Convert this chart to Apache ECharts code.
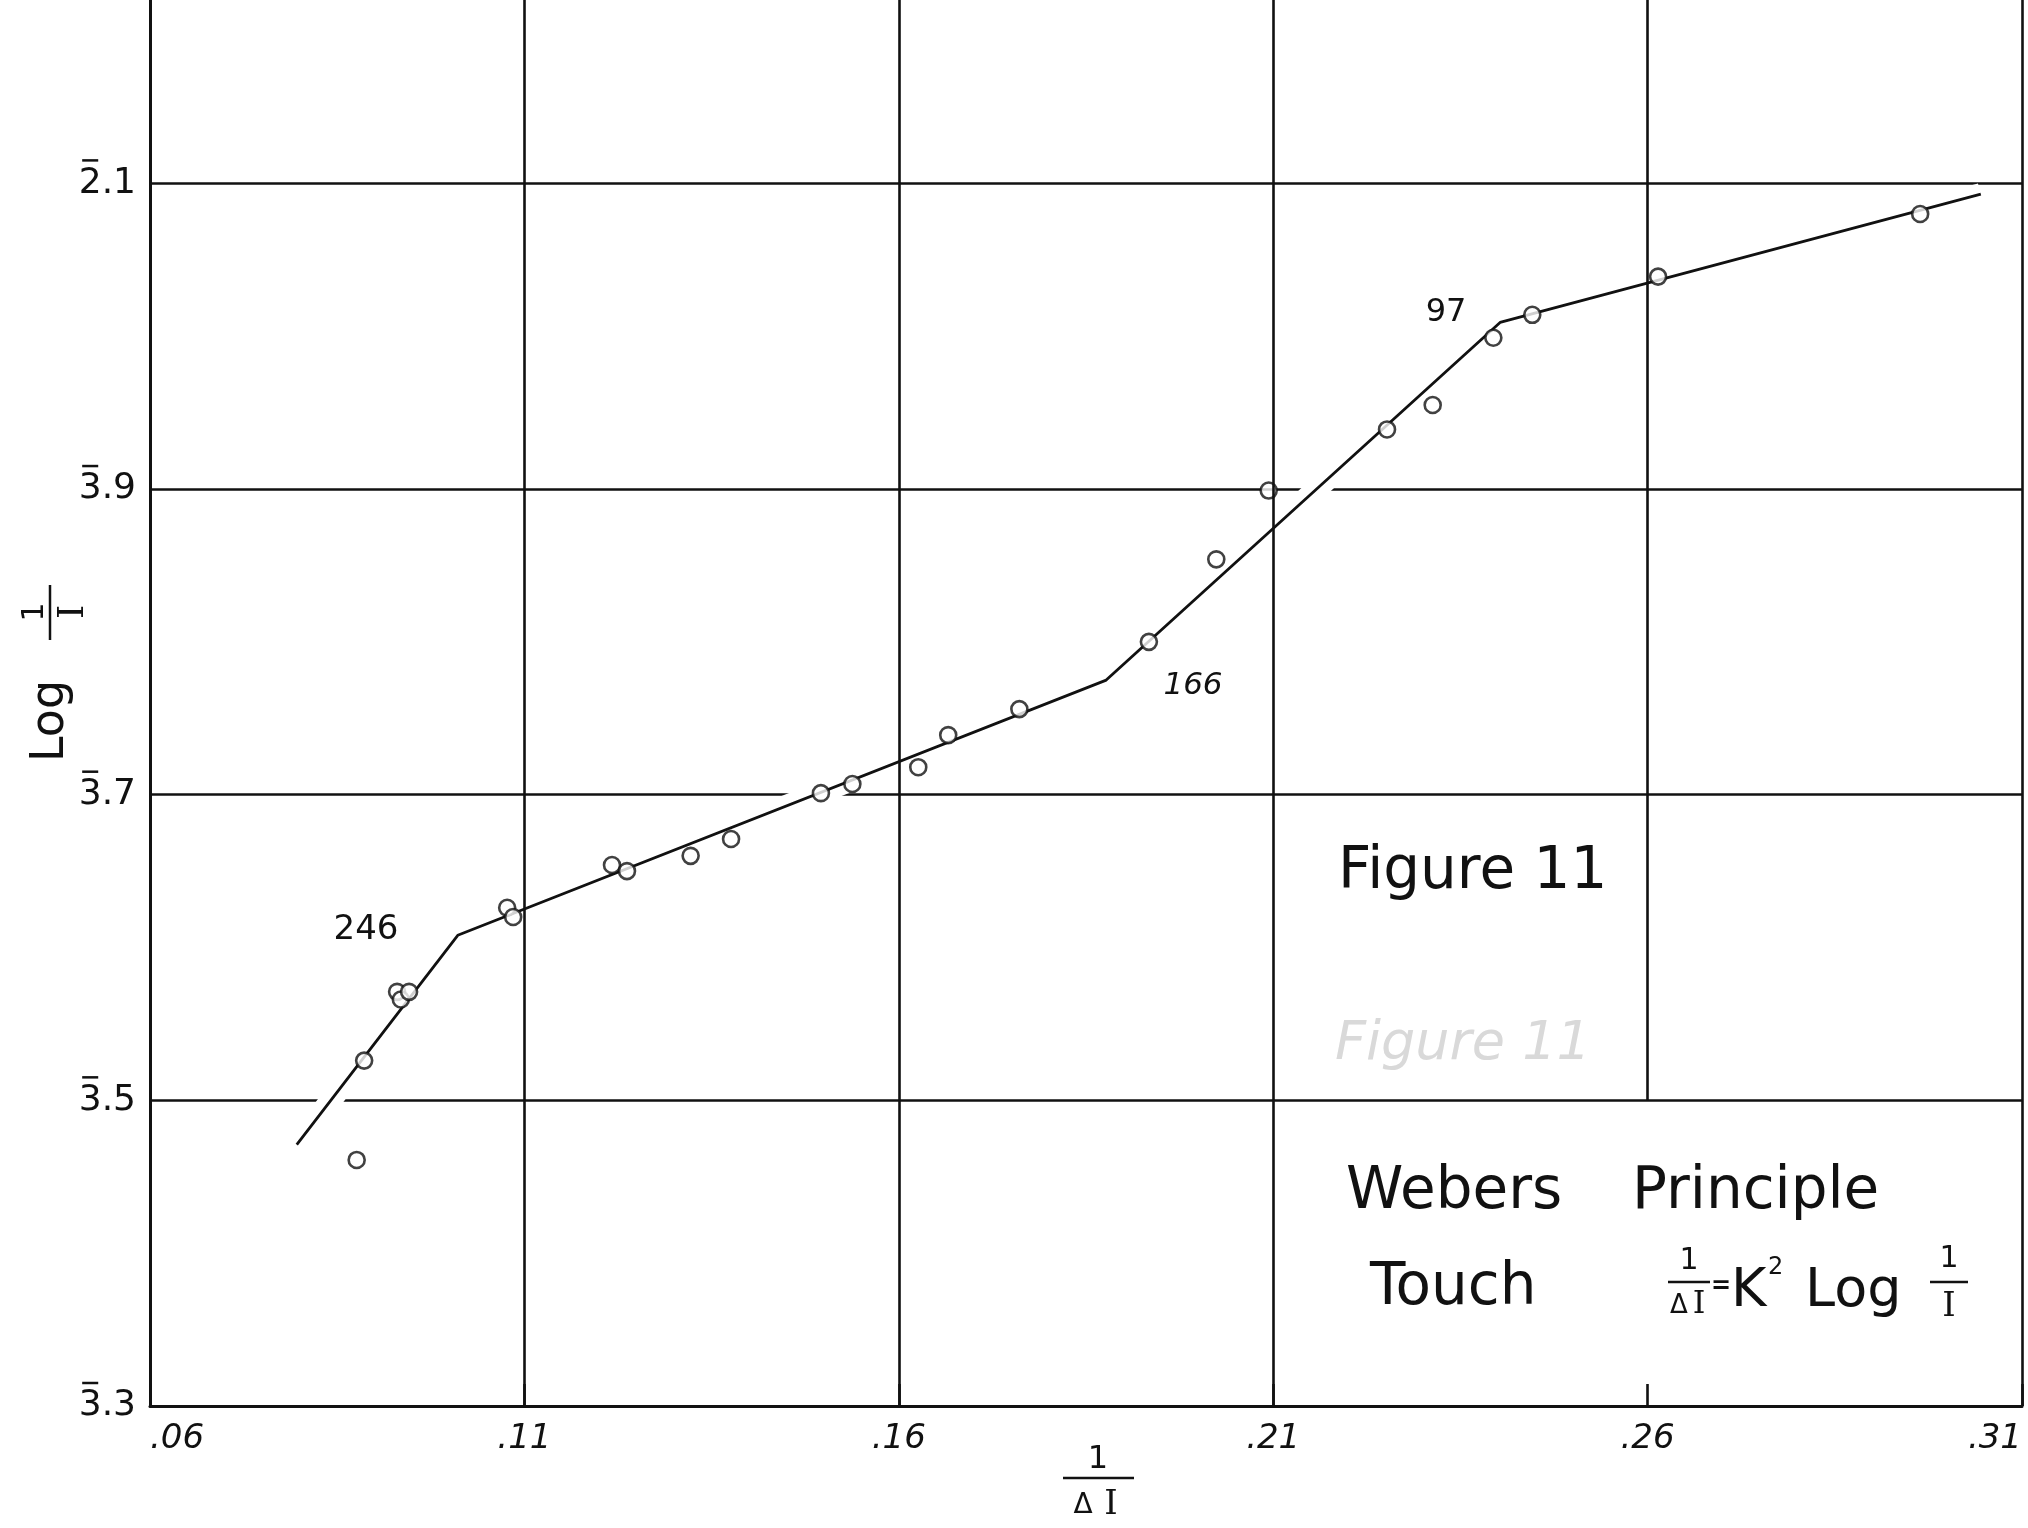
<!DOCTYPE html>
<html><head><meta charset="utf-8">
<script src="https://cdn.jsdelivr.net/npm/echarts@6/dist/echarts.min.js"></script>
<style>html,body{margin:0;padding:0;background:#fff}#c{width:2028px;height:1528px}</style>
</head><body><div id="c"></div>
<script>
// Observed points (1/ΔI , Log 1/I in bar notation: 3.5 means 3̄.5)
const xObs = [0.0876, 0.0886, 0.0930, 0.0935, 0.0946, 0.1077, 0.1085, 0.1217, 0.1237, 0.1322, 0.1376, 0.1496, 0.1538, 0.1626, 0.1666, 0.1761, 0.1934, 0.2024, 0.2094, 0.2252, 0.2313, 0.2394, 0.2446, 0.2614, 0.2964];
const yObs = [3.461, 3.526, 3.571, 3.566, 3.571, 3.626, 3.620, 3.654, 3.650, 3.660, 3.671, 3.701, 3.707, 3.718, 3.739, 3.756, 3.800, 3.854, 3.899, 3.939, 3.955, 3.999, 4.014, 4.039, 4.080];
// Fitted broken line
const xFit = [0.0796, 0.1011, 0.1877, 0.2403, 0.3045];
const yFit = [3.471, 3.608, 3.775, 4.009, 4.093];
// Tick labels
const xTickLabels = ['.06', '.11', '.16', '.21', '.26', '.31'];
const yTickValues = [3.3, 3.5, 3.7, 3.9, 4.1];
const yTickHeads = ['3', '3', '3', '3', '2'];   // characteristic, drawn with a bar over it
const yTickTails = ['.3', '.5', '.7', '.9', '.1'];
// Vertical rulings
const xGridFull = [0.11, 0.16, 0.21, 0.31];
const xGridPartial = [0.26];
const partialFrom = 3.5;
const yMax = 4.22;

const FONT = 'DejaVu Sans';
const SERIF = 'DejaVu Serif';
const INK = '#111';

const chart = echarts.init(document.getElementById('c'), null, {renderer: 'canvas'});

const obs = xObs.map((x, i) => [x, yObs[i]]);
const fit = xFit.map((x, i) => [x, yFit[i]]);

function txt(text, x, y, size, extra) {
  return {
    type: 'text', x: x, y: y, silent: true,
    style: Object.assign({text: text, fontSize: size, fontFamily: FONT, fill: INK, align: 'center', verticalAlign: 'middle'}, extra || {})
  };
}
function bar(x1, y1, x2, y2, w) {
  return {type: 'line', silent: true, shape: {x1: x1, y1: y1, x2: x2, y2: y2}, style: {stroke: INK, lineWidth: w || 2.5}};
}

const graphics = [
  // point annotations
  txt('246', 366, 930, 34),
  txt('166', 1193, 686, 31, {fontStyle: 'italic'}),
  txt('97', 1446, 313, 32),
  // titles
  txt('Figure 11', 1338, 873, 58, {align: 'left'}),
  txt('Figure 11', 1335, 1045, 54, {align: 'left', fontStyle: 'italic', fill: '#d9d9d9'}),
  txt('Webers', 1346, 1193, 58, {align: 'left'}),
  txt('Principle', 1632, 1193, 58, {align: 'left'}),
  txt('Touch', 1370, 1289, 58, {align: 'left'}),
  // formula 1/ΔI = K² Log 1/I
  txt('1', 1689, 1261, 30),
  bar(1668, 1282, 1710, 1282),
  txt('\u0394', 1679, 1306, 26),
  txt('I', 1699, 1305, 32, {fontFamily: SERIF}),
  txt('=', 1721, 1287, 24, {fontWeight: 'bold'}),
  txt('K', 1731, 1292, 54, {align: 'left'}),
  txt('2', 1768, 1268, 24, {align: 'left'}),
  txt('Log', 1805, 1292, 54, {align: 'left'}),
  txt('1', 1949, 1259, 30),
  bar(1930, 1282, 1968, 1282),
  txt('I', 1949, 1307, 34, {fontFamily: SERIF}),
  // x axis name 1/ΔI
  txt('1', 1098, 1460, 32),
  bar(1063, 1478, 1134, 1478),
  txt('\u0394', 1083, 1506, 28),
  txt('I', 1111, 1505, 34, {fontFamily: SERIF}),
  // y axis name Log 1/I (rotated)
  {
    type: 'group', x: 68, y: 762, rotation: Math.PI / 2, silent: true,
    children: [
      txt('Log', 0, -17, 46, {align: 'left'}),
      bar(122, -18, 177, -18),
      txt('1', 150, -33, 30),
      txt('I', 150, 6, 36, {fontFamily: SERIF})
    ]
  }
];

const option = {
  animation: false,
  backgroundColor: '#fff',
  grid: {left: 150, right: 6, top: 0, bottom: 122, containLabel: false},
  xAxis: {
    type: 'value', min: 0.06, max: 0.31, interval: 0.05,
    axisLine: {show: true, lineStyle: {color: INK, width: 3}},
    axisTick: {show: true, inside: true, length: 22, lineStyle: {color: INK, width: 2.6}},
    splitLine: {show: false},
    axisLabel: {
      formatter: v => xTickLabels[Math.round((v - 0.06) / 0.05)] || '',
      fontSize: 34, fontStyle: 'italic', fontFamily: FONT, color: INK, margin: 16,
      alignMinLabel: 'left', alignMaxLabel: 'right'
    }
  },
  yAxis: {
    type: 'value', min: 3.3, max: yMax, interval: 0.2,
    axisLine: {show: true, lineStyle: {color: INK, width: 3}},
    axisTick: {show: false},
    splitLine: {show: true, showMaxLine: false, lineStyle: {color: INK, width: 2.6}},
    axisLabel: {show: false}
  },
  series: [
    {
      type: 'line', data: [[0.06, 3.3]], symbol: 'none', silent: true, z: 1,
      lineStyle: {width: 0, opacity: 0},
      markLine: {
        silent: true, symbol: ['none', 'none'], animation: false,
        label: {show: false},
        lineStyle: {color: INK, width: 2.6, type: 'solid'},
        emphasis: {disabled: true},
        data: xGridFull.map(v => ({xAxis: v})).concat(
          xGridPartial.map(v => [{coord: [v, partialFrom]}, {coord: [v, yMax]}]))
      }
    },
    {
      type: 'line', data: fit, symbol: 'none', silent: true, z: 2,
      lineStyle: {color: '#fff', width: 22, cap: 'butt'}
    },
    {
      type: 'line', data: fit, symbol: 'none', silent: true, z: 3,
      lineStyle: {color: INK, width: 2.8}
    },
    {
      type: 'scatter', data: obs, symbol: 'circle', symbolSize: 16, silent: true, z: 4,
      itemStyle: {color: '#fff', borderColor: INK, borderWidth: 2.6}
    }
  ],
  graphic: graphics
};
chart.setOption(option);

// y tick labels in bar notation (3̄.5 etc.), placed through the axis scale
const meas = document.createElement('canvas').getContext('2d');
const LSIZE = 36;
meas.font = LSIZE + 'px "' + FONT + '"';
const leftPx = chart.convertToPixel({xAxisIndex: 0}, 0.06);
const labelRight = leftPx - 14;
const tickGraphics = [];
yTickValues.forEach((v, i) => {
  const py = chart.convertToPixel({yAxisIndex: 0}, v);
  const full = yTickHeads[i] + yTickTails[i];
  const wFull = meas.measureText(full).width;
  const wHead = meas.measureText(yTickHeads[i]).width;
  const x0 = labelRight - wFull;
  tickGraphics.push(txt(full, labelRight, py, LSIZE, {align: 'right'}));
  tickGraphics.push(bar(x0 + wHead * 0.15, py - 23, x0 + wHead * 0.85, py - 23, 2.5));
});
chart.setOption({graphic: graphics.concat(tickGraphics)});
</script>
</body></html>
